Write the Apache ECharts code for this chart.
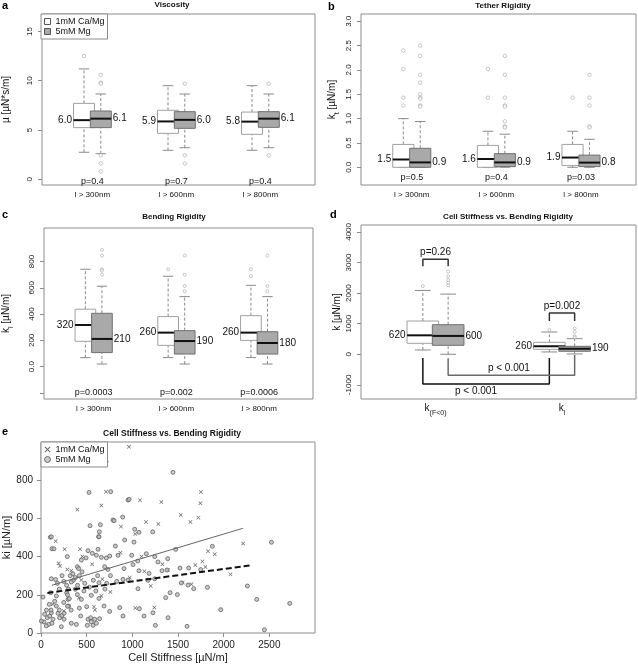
<!DOCTYPE html>
<html><head><meta charset="utf-8">
<script src="https://cdn.jsdelivr.net/npm/echarts@6/dist/echarts.min.js"></script>
<style>html,body{margin:0;padding:0;background:#fff}#c{width:638px;height:665px}</style>
</head><body><div id="c"></div>
<script>
// ---------------- DATA ----------------
const groupLabels = ['l > 300nm', 'l > 600nm', 'l > 800nm'];
const legendLabels = ['1mM Ca/Mg', '5mM Mg'];
const groupPos = [1, 2, 3];

// box stats: [lower whisker, Q1, median, Q3, upper whisker]
// a: Viscosity
const viscWhite = [[2.74, 5.24, 6.0, 7.7, 11.2], [2.94, 4.66, 5.87, 7.0, 9.5], [2.94, 4.56, 5.85, 6.82, 9.5]];
const viscGrey  = [[2.6, 5.24, 6.15, 6.93, 8.65], [3.2, 5.17, 6.03, 6.86, 8.65], [3.2, 5.27, 6.15, 6.86, 8.65]];
const viscWhiteOut = [[12.5], [], []];
const viscGreyOut  = [[10.6, 9.8, 9.7, 2.43, 1.6, 0.8], [9.7, 2.43, 1.6], [9.7, 2.43]];
const viscWhiteLab = ['6.0', '5.9', '5.8'];
const viscGreyLab  = ['6.1', '6.0', '6.1'];
const viscP = ['p=0.4', 'p=0.7', 'p=0.4'];
const viscTicks = [0, 5, 10, 15];

// b: Tether Rigidity
const tethWhite = [[0, 0, 0.16, 0.47, 1.0], [0, 0, 0.17, 0.45, 0.74], [0, 0.035, 0.2, 0.47, 0.74]];
const tethGrey  = [[0, 0, 0.1, 0.39, 0.94], [0, 0.014, 0.1, 0.28, 0.68], [0, 0.014, 0.096, 0.25, 0.575]];
const tethWhiteOut = [[2.4, 2.02, 1.43, 1.27], [2.02, 1.43], [1.43]];
const tethGreyOut  = [[2.5, 2.29, 1.9, 1.74, 1.5, 1.43, 1.41, 1.27, 1.25], [2.29, 1.9, 1.43, 1.27, 1.25, 0.945, 0.84, 0.82], [1.9, 1.43, 1.27, 0.84, 0.82]];
const tethWhiteLab = ['1.5', '1.6', '1.9'];
const tethGreyLab  = ['0.9', '0.9', '0.8'];
const tethP = ['p=0.5', 'p=0.4', 'p=0.03'];
const tethTicks = [0, 0.5, 1, 1.5, 2, 2.5, 3];
const tethTickLabels = ['0.0', '0.5', '1.0', '1.5', '2.0', '2.5', '3.0'];

// c: Bending Rigidity
const bendWhite = [[69, 193, 317, 437, 741], [69, 162, 259, 381, 688], [69, 200, 259, 388, 619]];
const bendGrey  = [[20, 107, 211, 406, 612], [20, 96, 195, 274, 533], [20, 96, 180, 266, 533]];
const bendWhiteOut = [[], [741], [741, 688]];
const bendGreyOut  = [[888, 845, 741, 731, 700], [845, 700, 614, 574], [845, 614, 574]];
const bendWhiteLab = ['320', '260', '260'];
const bendGreyLab  = ['210', '190', '180'];
const bendP = ['p=0.0003', 'p=0.002', 'p=0.0006'];
const bendTicks = [-200, 0, 200, 400, 600, 800];
const bendLabelTicks = [0, 200, 400, 600, 800];
const bendTickLabels = ['0.0', '200', '400', '600', '800'];

// d: Cell stiffness vs bending rigidity (boxes)
const dPos = [1, 2];
const dCats = ['(F<0)', 'l'];
const stiffWhite = [[141, 359, 620, 1087, 2087], [76, 163, 265, 391, 728]];
const stiffGrey  = [[0, 293, 600, 967, 1967], [11, 98, 185, 261, 511]];
const stiffWhiteOut = [[2228], [793]];
const stiffGreyOut  = [[2707, 2554, 2424, 2337, 2250], [848, 739, 598, 554]];
const stiffWhiteLab = ['620', '260'];
const stiffGreyLab  = ['600', '190'];
const stiffTicks = [-1000, 0, 1000, 2000, 3000, 4000];
const dPvals = ['p=0.26', 'p=0.002', 'p < 0.001', 'p < 0.001'];

// e: scatter (Cell Stiffness, ki)
const eCaMg = [
  [963,975],[712,740],[1084,695],[1318,686],[398,647],[661,668],[1150,581],[1285,571],[876,557],[1033,518],
  [1750,738],[1745,679],[1530,618],[1636,581],[1723,604],
  [1829,428],[1902,412],[2213,469],[1767,375],[1690,356],[1800,346],[2074,307],[1647,255],
  [161,480],[259,438],[427,438],[453,400],[193,365],[208,351],[288,333],[332,326],[1132,323],[442,277],
  [672,281],[971,290],[1201,246],[416,185],[661,194],[580,138],[1033,131],[1241,133],
  [1552,265],[1390,330],[760,215],[130,150],[560,360],[1100,400],[1330,360],[590,120],[250,115],[870,420]
];
const eMg = [
  [712,897],[526,885],[1445,841],[526,736],[763,740],[953,696],[965,700],[788,592],[800,588],[894,607],
  [537,562],[650,567],[639,530],[1026,543],[1073,527],[1223,530],[631,504],[102,501],
  [1876,454],[2523,475],[1522,340],[1617,340],[1749,332],[1537,262],[1610,251],[1672,232],[1822,239],
  [1493,201],[2260,246],[2362,176],[2723,155],[1968,122],[1599,35],[2446,17],
  [113,504],[635,504],[916,487],[1018,476],[814,455],[120,441],[142,441],[515,431],[624,438],[562,417],
  [606,407],[288,400],[442,382],[493,393],[661,396],[715,393],[752,403],[843,407],[993,407],[1059,377],
  [1153,415],[1245,400],[1281,372],[1387,389],[1475,438],[398,347],[412,337],[697,347],[733,333],[909,337],
  [1007,358],[1073,326],[1183,312],[1325,326],[1380,330],[113,284],[354,276],[376,290],[332,267],[573,276],
  [635,263],[829,270],[898,281],[953,277],[1172,276],[1245,284],[1062,232],[22,188],[106,211],[168,194],
  [281,211],[150,166],[168,141],[296,176],[303,141],[376,229],[398,201],[442,176],[551,197],[635,181],
  [690,141],[500,138],[752,113],[862,133],[898,89],[1077,127],[1128,89],[1365,185],[1413,211],[1226,106],
  [1252,40],[1391,80],[40,98],[69,80],[95,89],[113,106],[131,72],[33,58],[4,63],[84,45],[120,51],[58,37],
  [186,103],[204,80],[230,92],[252,103],[252,72],[223,33],[332,51],[387,45],[434,89],[515,72],[544,80],
  [551,58],[570,40],[507,40],[606,51],[642,75],[588,72],
  [280,250],[300,230],[290,200],[310,180],[320,300],[350,310],[250,270],[400,250],[420,300],[450,320],
  [480,260],[470,220],[530,240],[600,220],[620,300],[700,230],[720,260],[760,300],[200,230],[180,260],
  [230,300],[160,280],[250,160],[290,140],[330,120],[420,130],[200,120],[90,150],[60,120],[110,120]
];
const eFitCaMg = [[120, 250], [2210, 548]];
const eFitMg = [[70, 210], [2290, 354]];
const eXTicks = [0, 500, 1000, 1500, 2000, 2500];
const eYTicks = [0, 200, 400, 600, 800];

// ---------------- STYLE / LAYOUT ----------------
const FONT = '"Liberation Sans", Arial, Helvetica, sans-serif';
const FRAME = '#8c8c8c';
const OFF = 0.1, BOXW = 0.25;
const XPATH = 'path://M0,1.2L1.2,0L5,3.8L8.8,0L10,1.2L6.2,5L10,8.8L8.8,10L5,6.2L1.2,10L0,8.8L3.8,5Z';

function boxSeries(name, g, xs, stats, labels, kind) {
  const fill = kind === 'w' ? '#ffffff' : '#a9a9a9';
  const border = kind === 'w' ? '#a0a0a0' : '#707070';
  const whisk = '#8a8a8a';
  return {
    type: 'custom', name: name, xAxisIndex: g, yAxisIndex: g, silent: true, z: kind === 'w' ? 2 : 3,
    encode: {x: 0, y: [1, 2, 3, 4, 5]},
    data: stats.map((s, i) => [xs[i]].concat(s)),
    renderItem: function (params, api) {
      const x = api.value(0);
      const p = [1, 2, 3, 4, 5].map(k => api.coord([x, api.value(k)]));
      const cx = p[0][0];
      const w = api.size([BOXW, 0])[0];
      const hw = w / 2, cap = w / 4;
      const yLo = p[0][1], yQ1 = p[1][1], yMed = p[2][1], yQ3 = p[3][1], yHi = p[4][1];
      return {type: 'group', children: [
        {type: 'line', shape: {x1: cx, y1: yQ3, x2: cx, y2: yHi}, style: {stroke: whisk, lineWidth: 1, lineDash: [3, 2]}},
        {type: 'line', shape: {x1: cx, y1: yLo, x2: cx, y2: yQ1}, style: {stroke: whisk, lineWidth: 1, lineDash: [3, 2]}},
        {type: 'line', shape: {x1: cx - cap, y1: yHi, x2: cx + cap, y2: yHi}, style: {stroke: whisk, lineWidth: 1}},
        {type: 'line', shape: {x1: cx - cap, y1: yLo, x2: cx + cap, y2: yLo}, style: {stroke: whisk, lineWidth: 1}},
        {type: 'rect', shape: {x: cx - hw, y: yQ3, width: w, height: yQ1 - yQ3}, style: {fill: fill, stroke: border, lineWidth: 1}},
        {type: 'line', shape: {x1: cx - hw, y1: yMed, x2: cx + hw, y2: yMed}, style: {stroke: '#111', lineWidth: 2}},
        {type: 'text', x: kind === 'w' ? cx - hw - 1.5 : cx + hw + 1.5, y: yMed,
          style: {text: labels[params.dataIndex], align: kind === 'w' ? 'right' : 'left', verticalAlign: 'middle',
            fontSize: 10, fontFamily: FONT, fill: '#111'}}
      ]};
    }
  };
}
function outSeries(g, xs, outs, size) {
  const data = [];
  outs.forEach((arr, i) => arr.forEach(v => data.push([xs[i], v])));
  return {type: 'scatter', xAxisIndex: g, yAxisIndex: g, silent: true, z: 4, symbol: 'circle', symbolSize: size,
    itemStyle: {color: '#ffffff', borderColor: '#909090', borderWidth: 0.6}, data: data};
}
function textSeries(g, pts, texts, fontSize) {
  return {type: 'custom', xAxisIndex: g, yAxisIndex: g, silent: true, z: 5, data: pts,
    encode: {x: 0, y: 1},
    renderItem: function (params, api) {
      const c = api.coord([api.value(0), api.value(1)]);
      return {type: 'text', x: c[0], y: c[1], style: {text: texts[params.dataIndex], align: 'center',
        verticalAlign: 'middle', fontSize: fontSize, fontFamily: FONT, fill: '#111'}};
    }};
}
const wPos = groupPos.map(v => v - OFF), gPos = groupPos.map(v => v + OFF);
const wPosD = dPos.map(v => v - OFF), gPosD = dPos.map(v => v + OFF);

const series = [
  boxSeries('a_w', 0, wPos, viscWhite, viscWhiteLab, 'w'),
  boxSeries('a_g', 0, gPos, viscGrey, viscGreyLab, 'g'),
  outSeries(0, wPos, viscWhiteOut, 3.5), outSeries(0, gPos, viscGreyOut, 3.5),
  textSeries(0, groupPos.map(v => [v, -0.27]), viscP, 9),

  boxSeries('b_w', 1, wPos, tethWhite, tethWhiteLab, 'w'),
  boxSeries('b_g', 1, gPos, tethGrey, tethGreyLab, 'g'),
  outSeries(1, wPos, tethWhiteOut, 3.5), outSeries(1, gPos, tethGreyOut, 3.5),
  textSeries(1, groupPos.map(v => [v, -0.205]), tethP, 9),

  boxSeries('c_w', 2, wPos, bendWhite, bendWhiteLab, 'w'),
  boxSeries('c_g', 2, gPos, bendGrey, bendGreyLab, 'g'),
  outSeries(2, wPos, bendWhiteOut, 3), outSeries(2, gPos, bendGreyOut, 3),
  textSeries(2, groupPos.map(v => [v, -198]), bendP, 9),

  boxSeries('d_w', 3, wPosD, stiffWhite, stiffWhiteLab, 'w'),
  boxSeries('d_g', 3, gPosD, stiffGrey, stiffGreyLab, 'g'),
  outSeries(3, wPosD, stiffWhiteOut, 3), outSeries(3, gPosD, stiffGreyOut, 3),
  {type: 'line', xAxisIndex: 3, yAxisIndex: 3, symbol: 'none', silent: true, z: 4, lineStyle: {color: '#333', width: 1.5},
    data: [[wPosD[0], 2880], [wPosD[0], 3109], [gPosD[0], 3109], [gPosD[0], 2880]]},
  {type: 'line', xAxisIndex: 3, yAxisIndex: 3, symbol: 'none', silent: true, z: 4, lineStyle: {color: '#333', width: 1.5},
    data: [[wPosD[1], 1087], [wPosD[1], 1348], [gPosD[1], 1348], [gPosD[1], 1087]]},
  {type: 'line', xAxisIndex: 3, yAxisIndex: 3, symbol: 'none', silent: true, z: 4, lineStyle: {color: '#111', width: 1.5},
    data: [[wPosD[0], -120], [wPosD[0], -967], [wPosD[1], -967], [wPosD[1], -120]]},
  {type: 'line', xAxisIndex: 3, yAxisIndex: 3, symbol: 'none', silent: true, z: 4, lineStyle: {color: '#6a6a6a', width: 1.5},
    data: [[gPosD[0], -130], [gPosD[0], -685], [gPosD[1], -685], [gPosD[1], -22]]},
  textSeries(3, [[1, 3330], [2, 1560], [1.58, -470], [1.32, -1205]], dPvals, 10),

  {type: 'scatter', name: 'e_x', xAxisIndex: 4, yAxisIndex: 4, silent: true, symbol: XPATH, symbolSize: 4,
    itemStyle: {color: '#444'}, data: eCaMg},
  {type: 'scatter', name: 'e_o', xAxisIndex: 4, yAxisIndex: 4, silent: true, symbol: 'circle', symbolSize: 4,
    itemStyle: {color: '#bdbdbd', borderColor: '#555', borderWidth: 0.9}, data: eMg},
  {type: 'line', xAxisIndex: 4, yAxisIndex: 4, symbol: 'none', silent: true, z: 5,
    lineStyle: {color: '#666', width: 1}, data: eFitCaMg},
  {type: 'line', xAxisIndex: 4, yAxisIndex: 4, symbol: 'none', silent: true, z: 5,
    lineStyle: {color: '#111', width: 2, type: [6, 3]}, data: eFitMg}
];

function boxXAxis(g, min, max, vals, fmt, rich) {
  return {gridIndex: g, type: 'value', min: min, max: max,
    axisLine: {show: false, onZero: false}, axisTick: {show: false}, splitLine: {show: false},
    axisLabel: {customValues: vals, formatter: fmt, fontSize: 8, margin: 6, color: '#111', fontFamily: FONT, rich: rich}};
}
function boxYAxis(g, min, max, ticks, labelVals, fmt, name, gap, rich) {
  return {gridIndex: g, type: 'value', min: min, max: max,
    axisLine: {show: false, onZero: false}, splitLine: {show: false},
    axisTick: {show: true, customValues: ticks, length: 4, lineStyle: {color: FRAME}},
    axisLabel: {customValues: labelVals, formatter: fmt, rotate: 90, fontSize: 8, margin: 8, color: '#222', fontFamily: FONT},
    name: name, nameLocation: 'middle', nameRotate: 90, nameGap: gap,
    nameTextStyle: {fontSize: 10, color: '#111', fontFamily: FONT, rich: rich}};
}
const subRich = {
  s: {fontSize: 7, fontFamily: FONT, color: '#111', verticalAlign: 'bottom', lineHeight: 14},
  k: {fontSize: 10, fontFamily: FONT, color: '#111', verticalAlign: 'top', lineHeight: 14}
};
const catFmt = v => groupLabels[Math.round(v) - 1];

const gridBase = {show: true, borderColor: FRAME, borderWidth: 1, backgroundColor: 'transparent'};
const option = {
  animation: false,
  textStyle: {fontFamily: FONT},
  grid: [
    Object.assign({left: 41, top: 14, width: 274, height: 171}, gridBase),
    Object.assign({left: 361, top: 14, width: 275, height: 171}, gridBase),
    Object.assign({left: 41, top: 228, width: 272, height: 171}, gridBase),
    Object.assign({left: 361, top: 225, width: 275, height: 174}, gridBase),
    Object.assign({left: 41, top: 442, width: 274, height: 191}, gridBase)
  ],
  xAxis: [
    boxXAxis(0, 0.4, 3.65, groupPos, catFmt),
    boxXAxis(1, 0.4, 3.65, groupPos, catFmt),
    boxXAxis(2, 0.4, 3.65, groupPos, catFmt),
    {gridIndex: 3, type: 'value', min: 0.411, max: 2.585,
      axisLine: {show: false, onZero: false}, axisTick: {show: false}, splitLine: {show: false},
      axisLabel: {customValues: dPos, formatter: v => '{k|k}{s|' + dCats[Math.round(v) - 1] + '}', margin: 4, rich: subRich}},
    {gridIndex: 4, type: 'value', min: 0, max: 3000,
      axisLine: {show: false, onZero: false}, splitLine: {show: false},
      axisTick: {show: true, customValues: eXTicks, length: 4, lineStyle: {color: FRAME}},
      axisLabel: {customValues: eXTicks, formatter: v => String(v), fontSize: 10, margin: 7, color: '#222', fontFamily: FONT},
      name: 'Cell Stiffness [µN/m]', nameLocation: 'middle', nameGap: 19,
      nameTextStyle: {fontSize: 11, color: '#222', fontFamily: FONT, verticalAlign: 'top'}}
  ],
  yAxis: [
    boxYAxis(0, -0.58, 16.77, viscTicks, viscTicks, v => String(v), 'µ [µN*s/m]', 31),
    boxYAxis(1, -0.364, 3.15, tethTicks, tethTicks, v => tethTickLabels[tethTicks.indexOf(v)], '{k|k}{s|t}{k| [µN/m]}', 20, subRich),
    boxYAxis(2, -246, 1055, bendTicks, bendLabelTicks, v => bendTickLabels[bendLabelTicks.indexOf(v)], '{k|k}{s|l}{k| [µN/m]}', 29, subRich),
    boxYAxis(3, -1461, 4225, stiffTicks, stiffTicks, v => String(v), 'k [µN/m]', 19),
    {gridIndex: 4, type: 'value', min: 0, max: 1000,
      axisLine: {show: false, onZero: false}, splitLine: {show: false},
      axisTick: {show: true, customValues: eYTicks, length: 4, lineStyle: {color: FRAME}},
      axisLabel: {customValues: eYTicks, formatter: v => String(v), fontSize: 10, margin: 8, color: '#222', fontFamily: FONT},
      name: 'ki [µN/m]', nameLocation: 'middle', nameRotate: 90, nameGap: 29,
      nameTextStyle: {fontSize: 11, color: '#222', fontFamily: FONT}}
  ],
  title: [
    {text: 'a', left: 2, top: 0, padding: 0, textStyle: {fontSize: 11, fontWeight: 'bold', color: '#000'}},
    {text: 'Viscosity', left: 172, top: 1, padding: 0, textAlign: 'center', textStyle: {fontSize: 8, fontWeight: 'bold', color: '#111'}},
    {text: 'b', left: 328, top: 1, padding: 0, textStyle: {fontSize: 11, fontWeight: 'bold', color: '#000'}},
    {text: 'Tether Rigidity', left: 503, top: 2, padding: 0, textAlign: 'center', textStyle: {fontSize: 8, fontWeight: 'bold', color: '#111'}},
    {text: 'c', left: 2, top: 209, padding: 0, textStyle: {fontSize: 11, fontWeight: 'bold', color: '#000'}},
    {text: 'Bending Rigidity', left: 174, top: 213, padding: 0, textAlign: 'center', textStyle: {fontSize: 8, fontWeight: 'bold', color: '#111'}},
    {text: 'd', left: 330, top: 209, padding: 0, textStyle: {fontSize: 11, fontWeight: 'bold', color: '#000'}},
    {text: 'Cell Stiffness vs. Bending Rigidity', left: 508, top: 213, padding: 0, textAlign: 'center', textStyle: {fontSize: 8, fontWeight: 'bold', color: '#111'}},
    {text: 'e', left: 2, top: 426, padding: 0, textStyle: {fontSize: 11, fontWeight: 'bold', color: '#000'}},
    {text: 'Cell Stiffness vs. Bending Rigidity', left: 172, top: 429, padding: 0, textAlign: 'center', textStyle: {fontSize: 8.5, fontWeight: 'bold', color: '#111'}}
  ],
  legend: [
    {left: 41, top: 14, orient: 'vertical', selectedMode: false, backgroundColor: '#fff',
      borderColor: FRAME, borderWidth: 1, padding: [3, 3, 3, 3], itemGap: 1, itemWidth: 6, itemHeight: 6,
      textStyle: {fontSize: 9, color: '#111', fontFamily: FONT},
      formatter: n => n === 'a_w' ? legendLabels[0] : legendLabels[1],
      data: [{name: 'a_w', icon: 'rect', itemStyle: {color: '#fff', borderColor: '#555', borderWidth: 1}},
             {name: 'a_g', icon: 'rect', itemStyle: {color: '#a9a9a9', borderColor: '#555', borderWidth: 1}}]},
    {left: 41, top: 442, orient: 'vertical', selectedMode: false, backgroundColor: '#fff',
      borderColor: FRAME, borderWidth: 1, padding: [3, 3, 3, 3], itemGap: 1, itemWidth: 6, itemHeight: 6,
      textStyle: {fontSize: 9, color: '#111', fontFamily: FONT},
      formatter: n => n === 'e_x' ? legendLabels[0] : legendLabels[1],
      data: [{name: 'e_x', icon: XPATH, itemStyle: {color: '#444'}},
             {name: 'e_o', icon: 'circle', itemStyle: {color: '#bdbdbd', borderColor: '#555', borderWidth: 1}}]}
  ],
  series: series
};
const chart = echarts.init(document.getElementById('c'), null, {renderer: 'canvas'});
chart.setOption(option);
</script></body></html>
